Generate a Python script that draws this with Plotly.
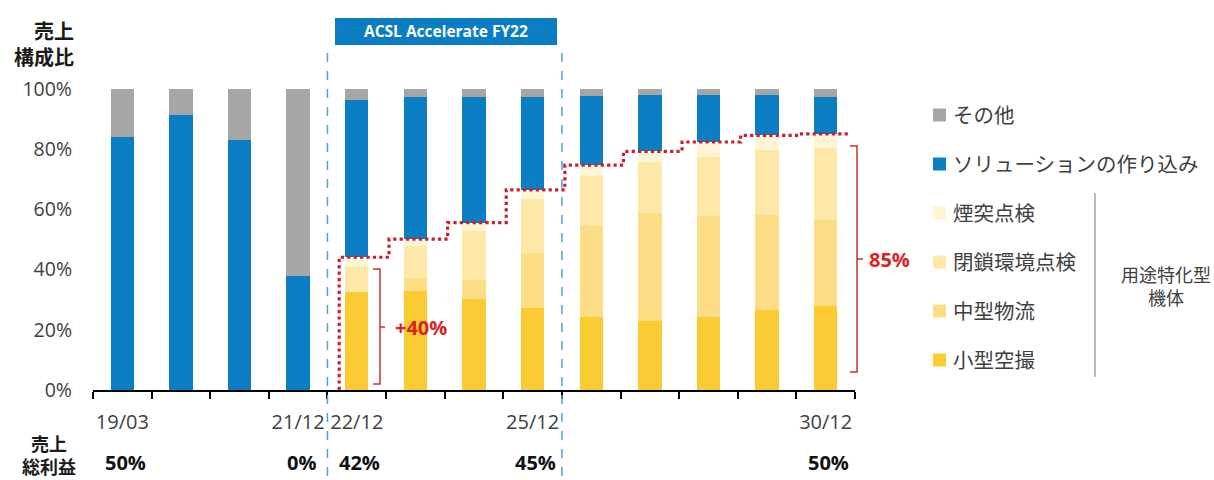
import plotly.graph_objects as go

# ---------------- data ----------------
periods = ["19/03", "19/12", "20/12", "21/12", "22/12", "23/12", "24/12",
           "25/12", "26/12", "27/12", "28/12", "29/12", "30/12"]
tick_labels = ["19/03", "", "", "21/12", "22/12", "", "", "25/12", "", "", "", "", "30/12"]
y_tick_vals = [0, 20, 40, 60, 80, 100]
y_tick_text = ["0%", "20%", "40%", "60%", "80%", "100%"]

series_names = ["小型空撮", "中型物流", "閉鎖環境点検", "煙突点検", "ソリューションの作り込み", "その他"]
small_aerial = [0, 0, 0, 0, 32.7, 33.0, 30.3, 27.2, 24.2, 23.0, 24.4, 26.6, 27.9]
mid_logistics = [0, 0, 0, 0, 0, 4.1, 6.3, 18.3, 30.3, 35.8, 33.5, 31.6, 28.6]
closed_insp = [0, 0, 0, 0, 8.1, 10.6, 16.1, 17.9, 16.7, 16.8, 19.5, 21.4, 23.9]
chimney_insp = [0, 0, 0, 0, 3.3, 2.4, 2.9, 3.1, 3.5, 3.7, 5.0, 5.0, 4.7]
solution = [84.2, 91.4, 82.9, 37.9, 52.1, 47.2, 41.7, 31.0, 23.1, 18.8, 15.7, 13.5, 12.2]
other = [15.8, 8.6, 17.1, 62.1, 3.8, 2.7, 2.7, 2.5, 2.2, 1.9, 1.9, 1.9, 2.7]
gross_margin = [50, None, None, 0, 42, None, None, 45, None, None, None, None, 50]

series_values = [small_aerial, mid_logistics, closed_insp, chimney_insp, solution, other]
series_colors = ["#FBCB34", "#FCDC84", "#FEE8A8", "#FFF4D6", "#0B7DC3", "#A6A6A6"]

# ---------------- layout helpers ----------------
W, H = 1214, 480
L, R, T, B = 93, 359, 89, 90
pw, ph = W - L - R, H - T - B
def fx(px):
    return (px - L) / pw
def fy(py):
    return (H - B - py) / ph

FONT = "Open Sans, Noto Sans CJK JP, sans-serif"
TXT = "#404040"
RED = "#D9241C"

xs = list(range(1, len(periods) + 1))

fig = go.Figure()
for name, vals, col in zip(series_names, series_values, series_colors):
    fig.add_trace(go.Bar(x=xs, y=vals, name=name, marker=dict(color=col, line=dict(width=0)),
                         showlegend=False, hoverinfo="skip"))

# red dotted step line along the top of the dedicated-airframe segments
yellow_total = [a + b + c + d for a, b, c, d in zip(small_aerial, mid_logistics, closed_insp, chimney_insp)]
start = 4  # index of 22/12
step_x = [xs[start] - 0.3] + [xs[i] + 0.55 for i in range(start, len(xs) - 1)] + [xs[-1] + 0.38]
step_y = [0] + yellow_total[start:]
fig.add_trace(go.Scatter(x=step_x, y=step_y, mode="lines", line=dict(color="#C8202F", width=3.2, dash="dot", shape="vh"),
                         showlegend=False, hoverinfo="skip"))

fig.update_layout(
    width=W, height=H, margin=dict(l=L, r=R, t=T, b=B),
    barmode="stack", bargap=0.6,
    paper_bgcolor="white", plot_bgcolor="white",
    font=dict(family=FONT, size=18, color=TXT),
    xaxis=dict(range=[0.5, len(xs) + 0.5], tickmode="array", tickvals=xs, ticktext=tick_labels,
               ticks="", showline=True, linecolor="black", linewidth=2, showgrid=False, zeroline=False,
               ticklabelstandoff=13, tickfont=dict(size=20, color=TXT),
               minor=dict(tickmode="array", tickvals=[v - 0.5 for v in xs] + [xs[-1] + 0.5],
                          ticks="outside", ticklen=7, tickwidth=2, tickcolor="black", showgrid=False)),
    yaxis=dict(range=[0, 100], tickmode="array", tickvals=y_tick_vals, ticktext=y_tick_text, showgrid=False,
               zeroline=False, showline=False, ticks="", ticklabelstandoff=20,
               tickfont=dict(size=19.5, color=TXT)),
)

shapes = []
annotations = []

# period divider dashed lines
for xv in [4.5, 8.5]:
    shapes.append(dict(type="line", xref="x", yref="paper", x0=xv, x1=xv, y0=fy(53), y1=fy(477),
                       line=dict(color="#4FA3D1", width=1.5, dash="dash")))

# ACSL Accelerate box
shapes.append(dict(type="rect", xref="paper", yref="paper", x0=fx(335), x1=fx(557), y0=fy(45), y1=fy(18),
                   fillcolor="#0B7DC3", line=dict(width=0)))
annotations.append(dict(xref="paper", yref="paper", x=fx(446), y=fy(31.5), xanchor="center", yanchor="middle",
                        text="<b>ACSL Accelerate FY22</b>", showarrow=False, font=dict(size=15.5, color="white")))

# axis titles
annotations.append(dict(xref="paper", yref="paper", x=fx(76), y=fy(45), xanchor="right", yanchor="middle",
                        text="<b>売上<br>構成比</b>", align="right", showarrow=False,
                        font=dict(size=20, color="#1a1a1a")))
annotations.append(dict(xref="paper", yref="paper", x=fx(49), y=fy(456), xanchor="center", yanchor="middle",
                        text="<b>売上<br>総利益</b>", align="center", showarrow=False,
                        font=dict(size=18, color="#1a1a1a")))

# gross margin row
for xv, gm in zip(xs, gross_margin):
    if gm is not None:
        annotations.append(dict(xref="x", yref="paper", x=xv + 0.05, y=fy(462), xanchor="center", yanchor="middle",
                                text=f"<b>{gm}%</b>", showarrow=False, font=dict(size=20, color="#111111")))

# +40% bracket
xv_, xl_, xm_ = fx(380), fx(373), fx(385)
yt, yb, ym = fy(269), fy(384), fy(327)
shapes.append(dict(type="path", xref="paper", yref="paper",
                   path=f"M {xl_},{yt} L {xv_},{yt} L {xv_},{yb} L {xl_},{yb} M {xv_},{ym} L {xm_},{ym}",
                   line=dict(color="#C0392B", width=1.5)))
annotations.append(dict(xref="paper", yref="paper", x=fx(393), y=ym, xanchor="left", yanchor="middle",
                        text="<b>+40%</b>", showarrow=False, font=dict(size=20, color=RED)))

# 85% bracket
xv_, xl_, xm_ = fx(857), fx(850), fx(863)
yt, yb, ym = fy(146), fy(372), fy(259)
shapes.append(dict(type="path", xref="paper", yref="paper",
                   path=f"M {xl_},{yt} L {xv_},{yt} L {xv_},{yb} L {xl_},{yb} M {xv_},{ym} L {xm_},{ym}",
                   line=dict(color="#C0392B", width=1.5)))
annotations.append(dict(xref="paper", yref="paper", x=fx(867), y=ym, xanchor="left", yanchor="middle",
                        text="<b>85%</b>", showarrow=False, font=dict(size=20, color=RED)))

# manual legend (top to bottom: reverse stacking order)
leg_y = [115, 164, 213, 262, 311, 360]
for py, name, col in zip(leg_y, series_names[::-1], series_colors[::-1]):
    shapes.append(dict(type="rect", xref="paper", yref="paper", x0=fx(933), x1=fx(946), y0=fy(py + 6.5),
                       y1=fy(py - 6.5), fillcolor=col, line=dict(width=0)))
    annotations.append(dict(xref="paper", yref="paper", x=fx(951), y=fy(py), xanchor="left", yanchor="middle",
                            text=name, showarrow=False, font=dict(size=20.5, color=TXT)))

# group bracket line + label
shapes.append(dict(type="line", xref="paper", yref="paper", x0=fx(1095), x1=fx(1095), y0=fy(193), y1=fy(377),
                   line=dict(color="#8C8C8C", width=1.2)))
annotations.append(dict(xref="paper", yref="paper", x=fx(1166), y=fy(286), xanchor="center", yanchor="middle",
                        text="用途特化型<br>機体", align="center", showarrow=False,
                        font=dict(size=18, color=TXT)))

fig.update_layout(shapes=shapes, annotations=annotations)
fig.write_html("out.html")
